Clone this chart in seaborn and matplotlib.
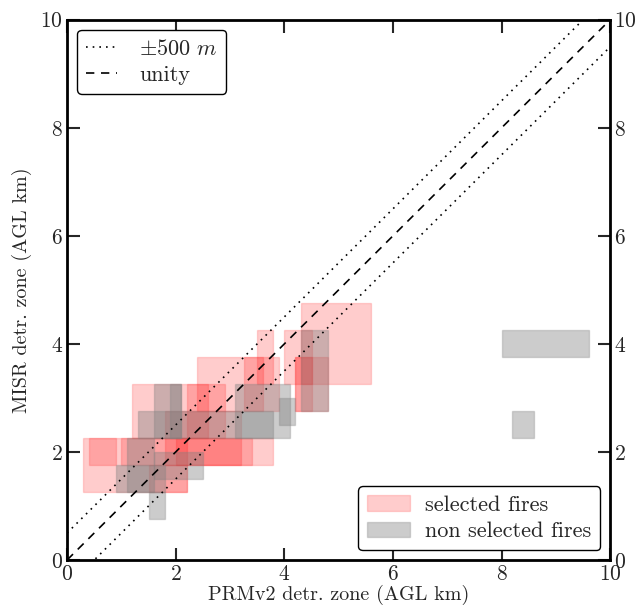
import matplotlib
matplotlib.use("Agg")
import matplotlib.pyplot as plt
import seaborn as sns
import numpy as np
import pandas as pd
from matplotlib.patches import Rectangle, Patch
from matplotlib.lines import Line2D

# selected fires: PRMv2 range (x) and MISR range (y), km AGL
sel_x0 = [4.3, 3.5, 4.0, 4.2, 4.2, 2.4, 3.25, 1.2, 0.3, 0.4, 1.0, 1.5, 1.8, 2.0, 2.2]
sel_x1 = [5.6, 3.8, 4.5, 4.8, 4.5, 3.9, 3.6, 2.9, 2.2, 0.9, 3.8, 2.2, 3.2, 3.4, 2.6]
sel_y0 = [3.25, 3.25, 3.25, 2.75, 2.75, 2.75, 2.75, 2.25, 1.25, 1.75, 1.75, 1.25, 1.75, 1.75, 2.25]
sel_y1 = [4.75, 4.25, 4.25, 3.75, 3.75, 3.75, 3.75, 3.25, 2.25, 2.25, 2.25, 1.75, 2.75, 2.25, 3.25]

# non selected fires
non_x0 = [4.3, 3.9, 3.1, 1.6, 1.9, 1.3, 1.1, 0.9, 1.5, 1.6, 8.0, 8.2]
non_x1 = [4.8, 4.2, 4.1, 2.1, 2.1, 3.8, 1.6, 1.8, 1.8, 2.5, 9.6, 8.6]
non_y0 = [2.75, 2.5, 2.25, 2.25, 2.25, 2.25, 1.25, 1.25, 0.75, 1.5, 3.75, 2.25]
non_y1 = [4.25, 3.0, 3.25, 3.25, 3.25, 2.75, 2.25, 1.75, 1.25, 2.0, 4.25, 2.75]

offset = 0.5  # +/- 500 m
line_x = [0.0, 10.0]

sns.set_style("ticks")
plt.rcParams["font.family"] = ["cmr10", "DejaVu Serif"]
plt.rcParams["mathtext.fontset"] = "cm"
plt.rcParams["axes.formatter.use_mathtext"] = True

fig = plt.figure(figsize=(6.39, 6.05), dpi=100)
ax = fig.add_axes([0.105, 0.0744, 0.85, 0.893])

red_face = (1.0, 0.0, 0.0, 0.2)
gray_face = (0.5, 0.5, 0.5, 0.4)

for x0, x1, y0, y1 in zip(sel_x0, sel_x1, sel_y0, sel_y1):
    ax.add_patch(Rectangle((x0, y0), x1 - x0, y1 - y0, facecolor=red_face,
                           edgecolor=(1.0, 0.0, 0.0, 0.15), lw=1.0))
for x0, x1, y0, y1 in zip(non_x0, non_x1, non_y0, non_y1):
    ax.add_patch(Rectangle((x0, y0), x1 - x0, y1 - y0, facecolor=gray_face,
                           edgecolor=(0.5, 0.5, 0.5, 0.3), lw=1.0))

lines = pd.DataFrame({
    "x": line_x * 3,
    "y": [line_x[0] + offset, line_x[1] + offset,
          line_x[0] - offset, line_x[1] - offset,
          line_x[0], line_x[1]],
    "kind": ["up", "up", "lo", "lo", "unity", "unity"],
})
for k, ls in [("up", (0, (1, 3))), ("lo", (0, (1, 3))), ("unity", (0, (5, 4)))]:
    d = lines[lines["kind"] == k]
    sns.lineplot(data=d, x="x", y="y", ax=ax, color="black", lw=1.2,
                 linestyle=ls, legend=False)

ax.set_xlim(0, 10)
ax.set_ylim(0, 10)
ax.set_xticks([0, 2, 4, 6, 8, 10])
ax.set_yticks([0, 2, 4, 6, 8, 10])
ax.tick_params(direction="in", length=9, width=1.5, labelsize=15.5,
               top=True, right=True, labelright=True, pad=3)
for s in ax.spines.values():
    s.set_linewidth(2.0)
    s.set_color("black")
ax.set_xlabel("PRMv2 detr. zone (AGL km)", fontsize=14.5, labelpad=1)
ax.set_ylabel("MISR detr. zone (AGL km)", fontsize=14.5, labelpad=6)

h1 = [Line2D([], [], color="black", ls=(0, (1, 3)), lw=1.2),
      Line2D([], [], color="black", ls=(0, (5, 4)), lw=1.2)]
leg1 = ax.legend(h1, [r"$\pm500\ m$", "unity"], loc="upper left",
                 fontsize=16, frameon=True, fancybox=True, edgecolor="black",
                 framealpha=1.0, handlelength=1.4, handletextpad=1.0,
                 borderaxespad=0.45, labelspacing=0.3)
leg1.get_frame().set_linewidth(1.0)
ax.add_artist(leg1)
h2 = [Patch(facecolor=red_face, edgecolor=(1, 0, 0, 0.15)),
      Patch(facecolor=gray_face, edgecolor=(0.5, 0.5, 0.5, 0.3))]
leg2 = ax.legend(h2, ["selected fires", "non selected fires"], loc="lower right",
                 fontsize=16, frameon=True, fancybox=True, edgecolor="black",
                 framealpha=1.0, handlelength=1.9, handletextpad=0.7,
                 borderaxespad=0.45, labelspacing=0.3)
leg2.get_frame().set_linewidth(1.0)

fig.savefig("out.png", dpi=100)
